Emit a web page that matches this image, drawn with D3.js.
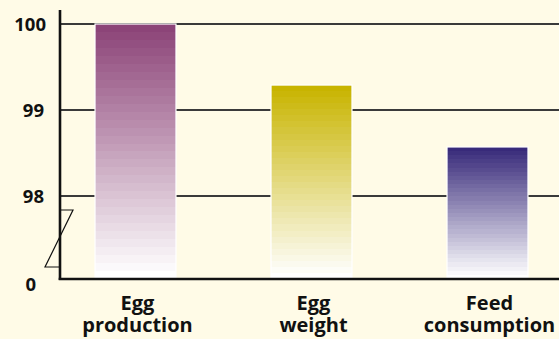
<!DOCTYPE html>
<html>
<head>
<meta charset="utf-8">
<script src="https://cdn.jsdelivr.net/npm/d3@7"></script>
<style>
  html, body { margin: 0; padding: 0; background: #fffbe7; }
  svg { display: block; }
  text { font-family: "Open Sans", "DejaVu Sans", sans-serif; font-weight: 700; fill: #111; }
</style>
</head>
<body>
<svg id="chart" width="559" height="339"></svg>
<script>
// Relative performance, per cent (axis broken between 0 and 98)
const categories = [["Egg", "production"], ["Egg", "weight"], ["Feed", "consumption"]];
const values = [100, 99.29, 98.57];
const barColors = ["#8c4478", "#c8b400", "#382a7a"];
const tickValues = [0, 98, 99, 100];
const tickLabels = ["0", "98", "99", "100"];

const W = 559, H = 339;
const axisX = 60, baseY = 279;

const svg = d3.select("#chart");
svg.append("rect").attr("width", W).attr("height", H).attr("fill", "#fffbe7");

// Broken value axis: 0 sits at the baseline, 98–100 is stretched above the break
const y = d3.scaleLinear().domain([0, 98, 100]).range([baseY, 196, 24]);

const x = d3.scaleBand()
  .domain(d3.range(categories.length))
  .range([47.5, 575.5])
  .paddingInner(0.54)
  .paddingOuter(0.27);

// Stepped vertical gradients, colour at top fading to white at the baseline
const defs = svg.append("defs");
const steps = 32;
barColors.forEach((c, i) => {
  const g = defs.append("linearGradient")
    .attr("id", "grad" + i)
    .attr("x1", 0).attr("y1", 0).attr("x2", 0).attr("y2", 1);
  const interp = d3.interpolateRgb(c, "#ffffff");
  for (let s = 0; s < steps; s++) {
    const col = interp(s / (steps - 1));
    g.append("stop").attr("offset", s / steps).attr("stop-color", col);
    g.append("stop").attr("offset", (s + 1) / steps).attr("stop-color", col);
  }
});

// Gridlines at 98, 99, 100
svg.append("g")
  .selectAll("line")
  .data(tickValues.filter(v => v > 0))
  .join("line")
  .attr("x1", axisX).attr("x2", W)
  .attr("y1", d => y(d)).attr("y2", d => y(d))
  .attr("stroke", "#3a3a3a")
  .attr("stroke-width", 2);

// Bars
svg.append("g")
  .selectAll("rect")
  .data(values)
  .join("rect")
  .attr("x", (d, i) => x(i))
  .attr("width", x.bandwidth())
  .attr("y", d => y(d))
  .attr("height", d => baseY - y(d))
  .attr("fill", (d, i) => `url(#grad${i})`)
  .attr("stroke", "#ffffff")
  .attr("stroke-width", 1.2);

// Axis break mark
svg.append("path")
  .attr("d", d3.line()([[axisX, 210], [73, 210], [45, 267], [axisX, 267]]))
  .attr("fill", "none")
  .attr("stroke", "#111")
  .attr("stroke-width", 1.2);

// Value axis
const yAxis = d3.axisLeft(y)
  .tickValues(tickValues)
  .tickFormat((d, i) => tickLabels[i])
  .tickSize(0)
  .tickPadding(15);
const ya = svg.append("g").attr("transform", `translate(${axisX},0)`).call(yAxis);
ya.select(".domain").remove();
ya.selectAll("text")
  .style("font-size", "18.5px")
  .attr("fill", "#111")
  .attr("dx", d => d === 0 ? -9 : (d === 100 ? 1 : -1))
  .attr("dy", d => d === 0 ? "0.62em" : "0.34em");

// Axis lines
svg.append("line")
  .attr("x1", axisX).attr("x2", axisX)
  .attr("y1", 10).attr("y2", baseY + 1)
  .attr("stroke", "#111").attr("stroke-width", 2.6);
svg.append("line")
  .attr("x1", axisX - 1.3).attr("x2", W)
  .attr("y1", baseY).attr("y2", baseY)
  .attr("stroke", "#111").attr("stroke-width", 2.4);

// Category labels, two lines each
const lab = svg.append("g")
  .selectAll("text")
  .data(categories)
  .join("text")
  .attr("text-anchor", "middle")
  .attr("x", (d, i) => x(i) + x.bandwidth() / 2 + 2)
  .style("font-size", "20px");
lab.selectAll("tspan")
  .data(d => d)
  .join("tspan")
  .attr("x", function () { return this.parentNode.getAttribute("x"); })
  .attr("y", (d, j) => 310 + j * 21.5)
  .text(d => d);
</script>
</body>
</html>
